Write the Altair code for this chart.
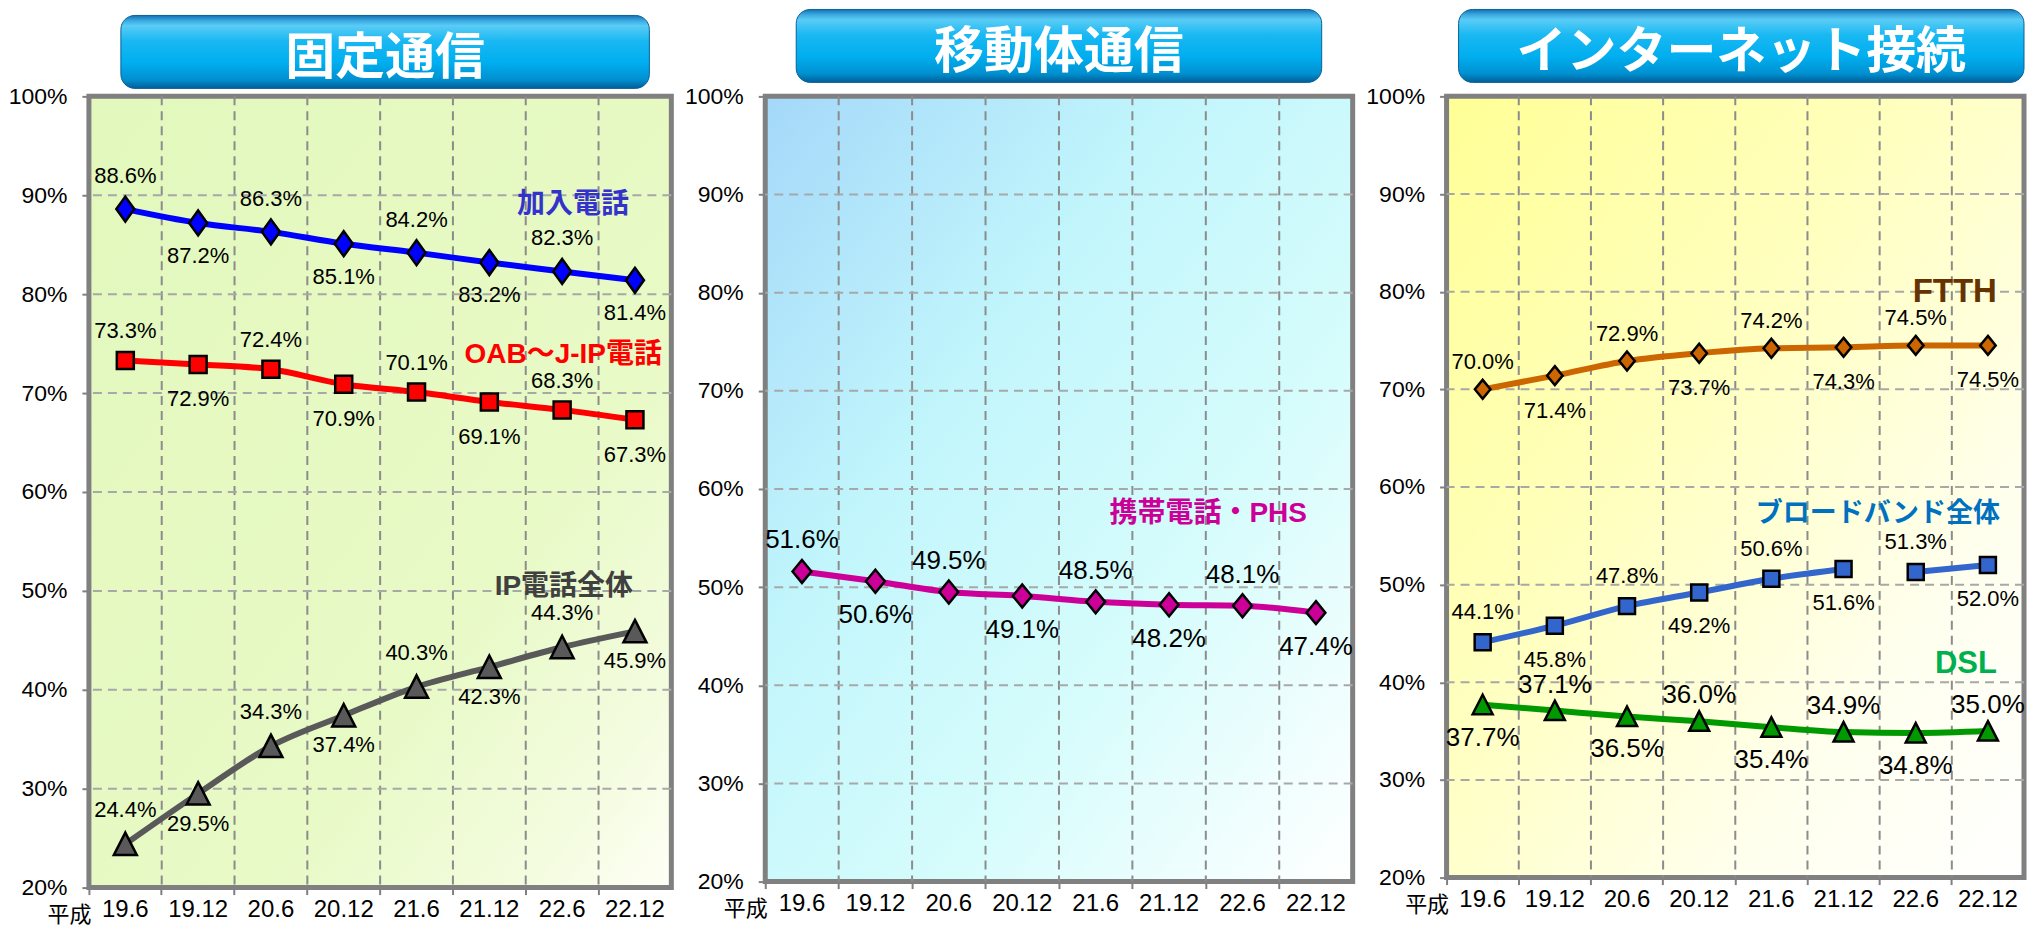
import altair as alt
import pandas as pd

# ---------------- data ----------------
PERIODS = ["19.6", "19.12", "20.6", "20.12", "21.6", "21.12", "22.6", "22.12"]

# 固定通信
KANYU = [88.6, 87.2, 86.3, 85.1, 84.2, 83.2, 82.3, 81.4]
OABJ_IP = [73.3, 72.9, 72.4, 70.9, 70.1, 69.1, 68.3, 67.3]
IP_ALL = [24.4, 29.5, 34.3, 37.4, 40.3, 42.3, 44.3, 45.9]
# 移動体通信
MOBILE = [51.6, 50.6, 49.5, 49.1, 48.5, 48.2, 48.1, 47.4]
# インターネット接続
FTTH = [70.0, 71.4, 72.9, 73.7, 74.2, 74.3, 74.5, 74.5]
BROADBAND = [44.1, 45.8, 47.8, 49.2, 50.6, 51.6, 51.3, 52.0]
BROADBAND_SEGMENT = [0, 0, 0, 0, 0, 0, 1, 1]
DSL = [37.7, 37.1, 36.5, 36.0, 35.4, 34.9, 34.8, 35.0]

Y_TICKS = [20, 30, 40, 50, 60, 70, 80, 90, 100]

# ---------------- styles ----------------
SANS = "Liberation Sans, Arial, Noto Sans CJK JP, sans-serif"
NARROW = "Liberation Sans Narrow, Arial Narrow, Liberation Sans, sans-serif"
CJK = "Noto Sans CJK JP, sans-serif"

DIAMOND_TALL = "M0,-1L0.72,0L0,1L-0.72,0Z"
DIAMOND = "M0,-1L0.82,0L0,1L-0.82,0Z"
TRIANGLE = "M0,-1L1,0.95L-1,0.95Z"
SQUARE = "square"

DUMMY = pd.DataFrame({"k": [0]})


def x_enc(band_pos=None):
    kw = {}
    if band_pos is not None:
        kw["bandPosition"] = band_pos
    return alt.X(
        "period:N",
        sort=PERIODS,
        scale=alt.Scale(type="band", domain=PERIODS, paddingInner=0, paddingOuter=0),
        axis=alt.Axis(
            bandPosition=0, grid=False, domain=False,
            ticks=True, tickSize=7, tickWidth=2, tickColor="#808080",
            labelFont=SANS, labelFontSize=24, labelColor="black", labelPadding=3,
            labelAngle=0, labelOverlap=False,
            title="平成", titleFont=CJK, titleFontSize=22, titleFontWeight="normal",
            titleColor="black", titleX=-20, titleY=27, titleAlign="center",
            titleBaseline="middle",
        ),
        **kw,
    )


def y_enc():
    return alt.Y(
        "value:Q",
        scale=alt.Scale(domain=[20, 100], nice=False, zero=False),
        axis=alt.Axis(
            values=Y_TICKS, labelExpr="datum.value + '%'", grid=False, domain=False,
            tickSize=7, tickWidth=2, tickColor="#808080", labelFont=SANS,
            labelFontSize=23, labelColor="black", labelPadding=15, title=None,
            labelOverlap=False,
        ),
    )


def series_layers(values, color, shape, size, lab_font, lab_size,
                  first_above=True, dy_up=-32, dy_down=33, segments=None):
    df = pd.DataFrame({
        "period": PERIODS,
        "value": values,
        "label": [f"{v:.1f}%" for v in values],
        "seg": segments if segments is not None else [0] * len(values),
    })
    df["above"] = [(i % 2 == 0) == first_above for i in range(len(values))]
    xe, ye = x_enc(), y_enc()
    line = alt.Chart(df).mark_line(color=color, strokeWidth=6, interpolate="monotone").encode(
        x=xe, y=ye, detail="seg:N")
    pts = alt.Chart(df).mark_point(
        shape=shape, size=size, filled=True, color=color, stroke="black",
        strokeWidth=2.5, opacity=1).encode(x=xe, y=ye)
    up = alt.Chart(df[df["above"]]).mark_text(
        font=lab_font, fontSize=lab_size, color="black", baseline="middle",
        dy=dy_up).encode(x=xe, y=ye, text="label:N")
    down = alt.Chart(df[~df["above"]]).mark_text(
        font=lab_font, fontSize=lab_size, color="black", baseline="middle",
        dy=dy_down).encode(x=xe, y=ye, text="label:N")
    return [line, pts, up, down]


def name_label(text, value, color, size, dx):
    df = pd.DataFrame({"period": ["22.12"], "value": [value], "name": [text]})
    return alt.Chart(df).mark_text(
        font=SANS, fontSize=size, fontWeight="bold", color=color, align="right",
        baseline="middle", dx=dx).encode(x=x_enc(), y=y_enc(), text="name:N")


def frame_layers(width, height, bg_stops, title, box_x0, box_x1, box_top, box_bottom, text_y):
    bg = alt.Chart(DUMMY).mark_rect(
        fill=alt.LinearGradient(
            gradient="linear",
            stops=[alt.GradientStop(offset=o, color=c) for o, c in bg_stops],
            x1=0, y1=0, x2=1, y2=1),
        stroke="#808080", strokeWidth=5,
    ).encode(x=alt.value(0), x2=alt.value(width), y=alt.value(0), y2=alt.value(height))
    vgrid = alt.Chart(pd.DataFrame({"period": PERIODS[1:]})).mark_rule(
        color="#8C8C8C", strokeWidth=2, strokeDash=[9, 6]).encode(x=x_enc(band_pos=0))
    hgrid = alt.Chart(pd.DataFrame({"value": Y_TICKS[1:-1]})).mark_rule(
        color="#A8A8A8", strokeWidth=2, strokeDash=[9, 6]).encode(y=y_enc())
    box = alt.Chart(DUMMY).mark_rect(
        cornerRadius=14,
        fill=alt.LinearGradient(
            gradient="linear",
            stops=[
                alt.GradientStop(offset=0, color="#1570B0"),
                alt.GradientStop(offset=0.07, color="#3AA8E0"),
                alt.GradientStop(offset=0.14, color="#5ACCF6"),
                alt.GradientStop(offset=0.35, color="#19B8F2"),
                alt.GradientStop(offset=0.65, color="#00AEEF"),
                alt.GradientStop(offset=0.88, color="#0090D0"),
                alt.GradientStop(offset=1, color="#005E98"),
            ],
            x1=0, y1=0, x2=0, y2=1),
        stroke="#0B5F96", strokeWidth=1,
    ).encode(x=alt.value(box_x0), x2=alt.value(box_x1), y=alt.value(box_top), y2=alt.value(box_bottom))
    txt = alt.Chart(DUMMY).mark_text(
        text=title, font=CJK, fontSize=50, fontWeight="bold", color="white",
        baseline="middle", align="center",
    ).encode(x=alt.value((box_x0 + box_x1) / 2), y=alt.value(text_y))
    return [bg, vgrid, hgrid], [box, txt]


# ---------------- panel 1: 固定通信 ----------------
W1, H1 = 583, 792
back1, top1 = frame_layers(
    W1, H1, [(0, "#E2F8BC"), (0.65, "#E8FAC6"), (0.88, "#F4FCE0"), (1, "#FFFFF6")],
    "固定通信", 32, 561, -81, -8, -37)
p1 = alt.layer(
    *back1,
    *series_layers(KANYU, "#0000FF", DIAMOND_TALL, 625, NARROW, 22, dy_up=-33, dy_down=33),
    *series_layers(OABJ_IP, "#FF0000", SQUARE, 289, NARROW, 22, dy_up=-29, dy_down=35),
    *series_layers(IP_ALL, "#595959", TRIANGLE, 529, NARROW, 22, dy_up=-34, dy_down=30),
    name_label("加入電話", 89.0, "#3333CC", 28, -6),
    name_label("OAB～J-IP電話", 73.8, "#FF0000", 28, 27),
    name_label("IP電話全体", 50.4, "#404040", 28, -2),
    *top1,
).properties(width=W1, height=H1)

# ---------------- panel 2: 移動体通信 ----------------
W2, H2 = 588, 786
back2, top2 = frame_layers(
    W2, H2, [(0, "#A4D8F9"), (0.35, "#C2F6FC"), (0.65, "#D6FCFC"), (1, "#FFFFFF")],
    "移動体通信", 31, 557, -87, -14, -43)
p2 = alt.layer(
    *back2,
    *series_layers(MOBILE, "#CC0099", DIAMOND, 529, SANS, 26, dy_up=-31, dy_down=34),
    name_label("携帯電話・PHS", 57.5, "#CC0099", 28, -9),
    *top2,
).properties(width=W2, height=H2)

# ---------------- panel 3: インターネット接続 ----------------
W3, H3 = 578, 782
back3, top3 = frame_layers(
    W3, H3, [(0, "#FFFF96"), (0.4, "#FFFFBE"), (0.75, "#FFFFEE"), (1, "#FFFFFF")],
    "インターネット接続", 12, 578, -87, -14, -43)
p3 = alt.layer(
    *back3,
    *series_layers(FTTH, "#CC6600", DIAMOND, 361, NARROW, 22, dy_up=-27, dy_down=35),
    *series_layers(BROADBAND, "#3366CC", SQUARE, 256, NARROW, 22, dy_up=-30, dy_down=34,
                   segments=BROADBAND_SEGMENT),
    *series_layers(DSL, "#009900", TRIANGLE, 400, SANS, 26, first_above=False,
                   dy_up=-26, dy_down=33),
    name_label("FTTH", 80.0, "#663300", 33, 9),
    name_label("ブロードバンド全体", 57.2, "#0070C0", 27, 12),
    name_label("DSL", 41.9, "#00B050", 31, 9),
    *top3,
).properties(width=W3, height=H3)

chart = alt.hconcat(p1, p2, p3, spacing=10).properties(
    padding={"left": 0, "top": 0, "right": 0, "bottom": 3}
).configure_view(strokeWidth=0)

chart.save("out.html", embed_options={"renderer": "svg", "actions": False})
